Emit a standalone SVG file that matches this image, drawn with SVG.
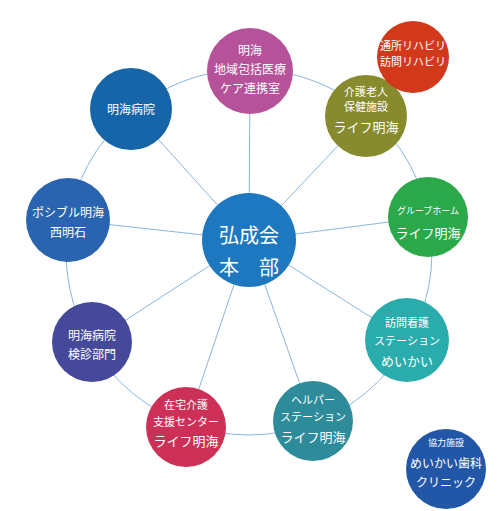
<svg xmlns="http://www.w3.org/2000/svg" width="500" height="511" viewBox="0 0 500 511">
<style>
.ln{stroke:#8cb6de;stroke-width:1;fill:none}
text{fill:#fff;font-family:"Noto Sans CJK JP","Noto Sans",sans-serif;text-anchor:middle}
.s{font-size:11px}.m{font-size:12px}.l{font-size:13px}.xs{font-size:9px}.c{font-size:20px}
</style>
<rect width="500" height="511" fill="#fff"/>
<g id="connectors">
<circle class="ln" cx="249" cy="252" r="183"/>
<line class="ln" x1="249" y1="240" x2="250" y2="71"/>
<line class="ln" x1="249" y1="240" x2="366" y2="116"/>
<line class="ln" x1="249" y1="240" x2="131" y2="109"/>
<line class="ln" x1="249" y1="240" x2="68" y2="220"/>
<line class="ln" x1="249" y1="240" x2="428" y2="217"/>
<line class="ln" x1="249" y1="240" x2="407" y2="340"/>
<line class="ln" x1="249" y1="240" x2="92" y2="342"/>
<line class="ln" x1="249" y1="240" x2="186" y2="427"/>
<line class="ln" x1="249" y1="240" x2="313" y2="421"/>
</g>
<g id="chiiki"><circle cx="250" cy="71" r="43" fill="#b5529a"/>
<text class="m" x="250" y="55">明海</text><text class="m" x="250" y="74">地域包括医療</text><text class="m" x="250" y="93">ケア連携室</text></g>
<g id="kaigo"><circle cx="366" cy="116" r="41" fill="#878a2d"/>
<text class="s" x="366" y="96">介護老人</text><text class="s" x="366" y="111">保健施設</text><text class="l" x="366" y="132">ライフ明海</text></g>
<g id="tsusho"><circle cx="413" cy="57" r="36" fill="#d2391b"/>
<text class="s" x="413" y="50">通所リハビリ</text><text class="s" x="413" y="66">訪問リハビリ</text></g>
<g id="byoin"><circle cx="131" cy="109" r="41" fill="#1665a8"/>
<text class="m" x="131" y="114">明海病院</text></g>
<g id="posible"><circle cx="68" cy="220" r="42" fill="#2a64b0"/>
<text class="m" x="68" y="217">ポシブル明海</text><text class="m" x="68" y="237">西明石</text></g>
<g id="honbu"><circle cx="249" cy="240" r="47" fill="#1e78c0"/>
<text class="c" x="249" y="243">弘成会</text><text class="c" x="249" y="275" xml:space="preserve">本　部</text></g>
<g id="grouphome"><circle cx="428" cy="217" r="40" fill="#2aa84a"/>
<text class="xs" x="428" y="214">グループホーム</text><text class="l" x="428" y="238">ライフ明海</text></g>
<g id="houmon"><circle cx="407" cy="340" r="42" fill="#2aacad"/>
<text class="s" x="407" y="327">訪問看護</text><text class="s" x="407" y="345">ステーション</text><text class="l" x="407" y="366">めいかい</text></g>
<g id="kenshin"><circle cx="92" cy="342" r="40" fill="#46489a"/>
<text class="m" x="92" y="340">明海病院</text><text class="m" x="92" y="359">検診部門</text></g>
<g id="zaitaku"><circle cx="186" cy="427" r="40" fill="#cc3056"/>
<text class="s" x="186" y="409">在宅介護</text><text class="s" x="186" y="426">支援センター</text><text class="l" x="186" y="446">ライフ明海</text></g>
<g id="helper"><circle cx="313" cy="421" r="40" fill="#2e8c9a"/>
<text class="s" x="313" y="404">ヘルパー</text><text class="s" x="313" y="421">ステーション</text><text class="l" x="313" y="442">ライフ明海</text></g>
<g id="kyoryoku"><circle cx="446" cy="469" r="40" fill="#2257a8"/>
<text class="xs" x="446" y="446">協力施設</text><text class="m" x="446" y="468">めいかい歯科</text><text class="m" x="446" y="487">クリニック</text></g>
</svg>
